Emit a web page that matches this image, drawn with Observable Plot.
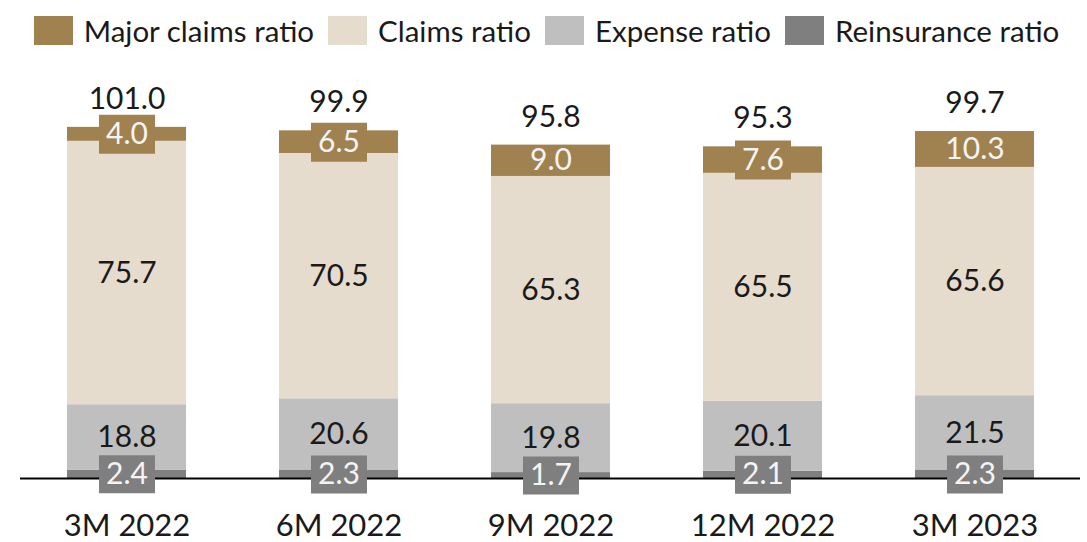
<!DOCTYPE html>
<html>
<head>
<meta charset="utf-8">
<script src="https://cdn.jsdelivr.net/npm/d3@7"></script>
<script src="https://cdn.jsdelivr.net/npm/@observablehq/plot@0.6"></script>
<style>
  body { margin: 0; background: #fff; font-family: Lato, sans-serif; }
  #legend { height: 60px; display: flex; align-items: center; justify-content: center; gap: 14px; font-size: 29.5px; color: #1a1a1a; padding-left: 6px; }
  .item { display: flex; align-items: center; gap: 11px; }
  .sw { width: 39px; height: 29px; display: inline-block; }
</style>
</head>
<body>
<div id="legend"></div>
<div id="chart"></div>
<script>
const periods = ["3M 2022", "6M 2022", "9M 2022", "12M 2022", "3M 2023"];
const seriesNames = ["Reinsurance ratio", "Expense ratio", "Claims ratio", "Major claims ratio"];
const legendOrder = ["Major claims ratio", "Claims ratio", "Expense ratio", "Reinsurance ratio"];
const colors = ["#7f7f7f", "#bfbfbf", "#e6dccd", "#a08150"];
const reinsurance = [2.4, 2.3, 1.7, 2.1, 2.3];
const expense = [18.8, 20.6, 19.8, 20.1, 21.5];
const claims = [75.7, 70.5, 65.3, 65.5, 65.6];
const major = [4.0, 6.5, 9.0, 7.6, 10.3];
const totals = [101.0, 99.9, 95.8, 95.3, 99.7];
// labels shown in a boxed callout
const majorBoxed = [true, true, false, true, false];

const seriesValues = [reinsurance, expense, claims, major];
const data = [];
periods.forEach((p, i) => {
  seriesNames.forEach((s, j) => {
    data.push({period: p, series: s, value: seriesValues[j][i],
      boxed: j === 0 || (j === 3 && majorBoxed[i])});
  });
});
const totalData = periods.map((p, i) => ({period: p, total: totals[i]}));

// legend
const legend = document.getElementById("legend");
legendOrder.forEach(s => {
  const it = document.createElement("div");
  it.className = "item";
  const sw = document.createElement("span");
  sw.className = "sw";
  sw.style.background = colors[seriesNames.indexOf(s)];
  const t = document.createElement("span");
  t.textContent = s;
  it.appendChild(sw); it.appendChild(t);
  legend.appendChild(it);
});

const boxSymbol = (w, h) => ({draw(ctx) { ctx.rect(-w / 2, -h / 2, w, h); }});
const stackOpts = {x: "period", y: "value", z: "series"};

const chart = Plot.plot({
  width: 1087,
  height: 482,
  marginLeft: 20,
  marginRight: 7,
  marginTop: 70,
  marginBottom: 64,
  style: {fontFamily: "Lato, sans-serif", fontSize: "30px", color: "#1a1a1a", background: "#fff"},
  x: {domain: periods, paddingInner: 0.44, paddingOuter: 0.22, label: null},
  y: {domain: [0, 100], axis: null},
  color: {domain: seriesNames, range: colors},
  marks: [
    Plot.barY(data, Plot.stackY({...stackOpts, fill: "series"})),
    Plot.ruleY([0], {stroke: "#000", strokeWidth: 2}),
    Plot.dot(data, Plot.filter(d => d.boxed && d.series === "Reinsurance ratio",
      Plot.stackY({...stackOpts, symbol: boxSymbol(56, 38), fill: colors[0], r: 10}))),
    Plot.dot(data, Plot.filter(d => d.boxed && d.series === "Major claims ratio",
      Plot.stackY({...stackOpts, symbol: boxSymbol(56, 39), fill: colors[3], r: 10}))),
    Plot.text(data, Plot.stackY({...stackOpts, text: d => d.value.toFixed(1),
      fill: d => (d.series === "Reinsurance ratio" || d.series === "Major claims ratio") ? "#f4f4f4" : "#1a1a1a"})),
    Plot.text(totalData, {x: "period", y: "total", text: d => d.total.toFixed(1), dy: -28, fill: "#1a1a1a"}),
    Plot.axisX({tickSize: 0, tickPadding: 35, fontSize: 31, label: null})
  ]
});
document.getElementById("chart").appendChild(chart);
</script>
</body>
</html>
